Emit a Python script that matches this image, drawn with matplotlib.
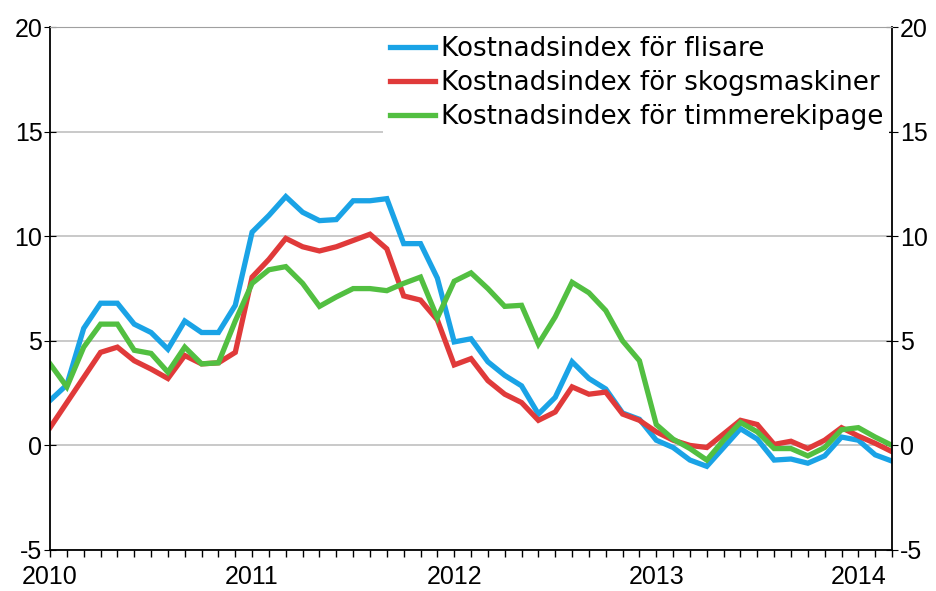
import numpy as np
import matplotlib.pyplot as plt
from matplotlib.ticker import MultipleLocator

# monthly values, Jan 2010 - Mar 2014
flisare = [2.15, 2.9, 5.6, 6.8, 6.8, 5.8, 5.4, 4.6, 5.95, 5.4, 5.4, 6.7,
           10.2, 11.0, 11.9, 11.15, 10.75, 10.8, 11.7, 11.7, 11.8, 9.65, 9.65, 8.0,
           4.95, 5.1, 4.0, 3.35, 2.85, 1.5, 2.3, 4.0, 3.2, 2.7, 1.55, 1.25,
           0.25, -0.1, -0.7, -1.0, -0.1, 0.8, 0.3, -0.7, -0.65, -0.85, -0.5, 0.4,
           0.25, -0.45, -0.75]
skogsmaskiner = [0.85, 2.05, 3.25, 4.45, 4.7, 4.05, 3.65, 3.2, 4.3, 3.9, 3.95, 4.45,
                 8.05, 8.9, 9.9, 9.5, 9.3, 9.5, 9.8, 10.1, 9.4, 7.15, 6.95, 6.0,
                 3.85, 4.15, 3.1, 2.45, 2.05, 1.2, 1.6, 2.8, 2.45, 2.55, 1.5, 1.2,
                 0.65, 0.25, 0.0, -0.1, 0.55, 1.2, 1.0, 0.05, 0.2, -0.15, 0.25, 0.85,
                 0.45, 0.1, -0.3]
timmerekipage = [3.9, 2.8, 4.7, 5.8, 5.8, 4.55, 4.4, 3.5, 4.7, 3.9, 3.95, 5.95,
                 7.75, 8.4, 8.55, 7.75, 6.65, 7.1, 7.5, 7.5, 7.4, 7.75, 8.05, 6.1,
                 7.85, 8.25, 7.5, 6.65, 6.7, 4.85, 6.15, 7.8, 7.3, 6.45, 5.0, 4.05,
                 1.0, 0.3, -0.15, -0.7, 0.25, 1.1, 0.65, -0.15, -0.15, -0.5, -0.1, 0.75,
                 0.85, 0.4, 0.0]
year_labels = ['2010', '2011', '2012', '2013', '2014']
labels = ['Kostnadsindex för flisare', 'Kostnadsindex för skogsmaskiner',
          'Kostnadsindex för timmerekipage']
colors = ['#1aa3e6', '#e03a3a', '#52bf41']

plt.rcParams['font.family'] = ['Liberation Sans', 'DejaVu Sans']
plt.rcParams['axes.unicode_minus'] = False

x = np.arange(len(flisare))

fig = plt.figure(figsize=(9.37, 5.91), dpi=100)
ax = fig.add_axes([0.0534, 0.0694, 0.8986, 0.8846])

for y, lab, c in zip([flisare, skogsmaskiner, timmerekipage], labels, colors):
    ax.plot(x, y, color=c, lw=3.8, label=lab, solid_joinstyle='miter')

ax.set_xlim(0, len(flisare) - 1)
ax.set_ylim(-5, 20)
ax.set_yticks([-5, 0, 5, 10, 15, 20])
ax.yaxis.grid(True, color='#c0c0c0', lw=1.2)
ax.set_axisbelow(True)

ax.set_xticks(np.arange(0, len(flisare), 12))
ax.set_xticklabels(year_labels)
ax.xaxis.set_minor_locator(MultipleLocator(1))
ax.tick_params(axis='x', which='both', length=5, width=1, labelsize=18, pad=6)
ax.tick_params(axis='y', direction='inout', length=9, labelsize=18, left=True, right=True,
               labelleft=True, labelright=True, pad=1)

ax.spines['top'].set_color('#a0a0a0')
for s in ['left', 'right', 'bottom']:
    ax.spines[s].set_linewidth(1.3)

leg = ax.legend(loc='upper right', frameon=True, handlelength=1.75,
                prop={'family': 'DejaVu Sans', 'size': 18.8},
                handletextpad=0.2, labelspacing=0.3, borderaxespad=0.1,
                borderpad=0.25, fancybox=False)
leg.get_frame().set_edgecolor('none')
leg.get_frame().set_facecolor('white')
leg.get_frame().set_alpha(1)

fig.savefig('out.png', dpi=100)
